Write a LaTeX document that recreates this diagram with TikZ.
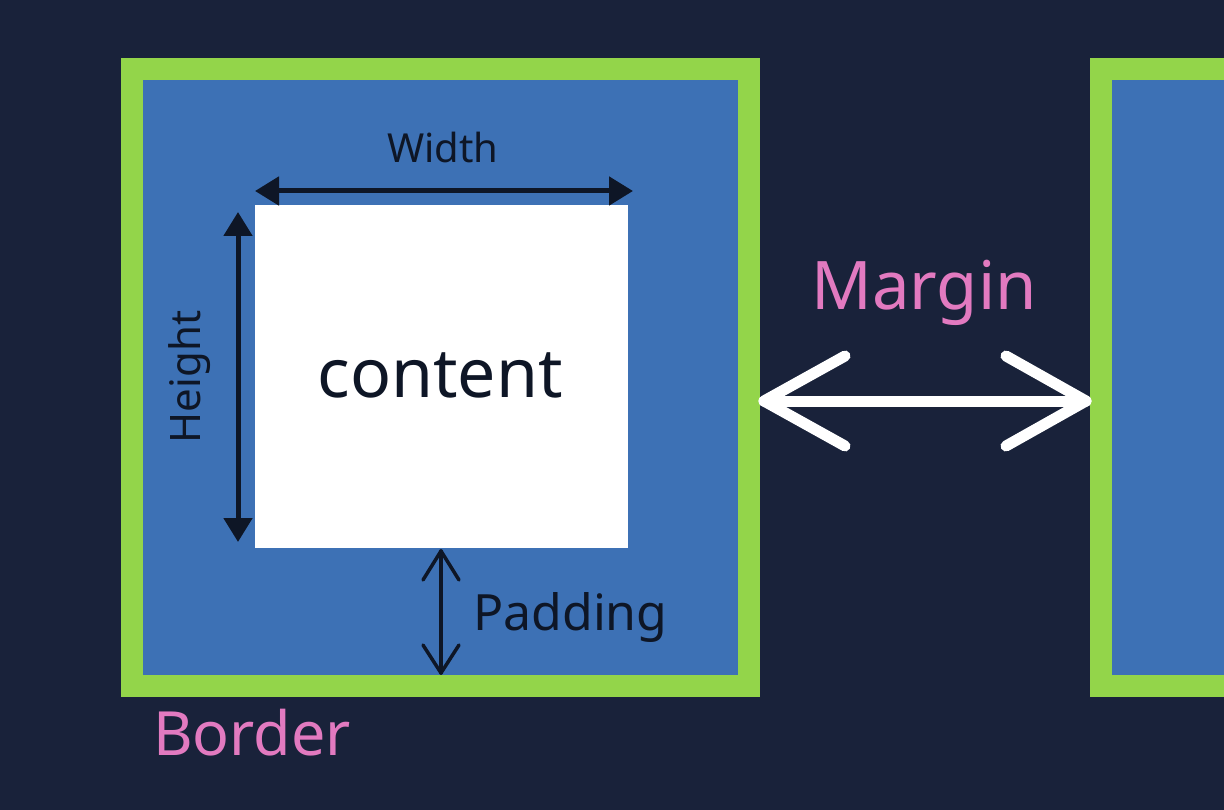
\documentclass[tikz,border=0pt]{standalone}
\usepackage{fontspec}
\setmainfont{Noto Sans}
\usetikzlibrary{arrows.meta}
\definecolor{bg}{HTML}{19223A}
\definecolor{brd}{HTML}{93D54A}
\definecolor{pad}{HTML}{3D71B5}
\definecolor{ink}{HTML}{0E1626}
\definecolor{pinkl}{HTML}{E27AC0}
\tikzset{
  box/.style={inner sep=0pt, outer sep=0pt, anchor=north west},
  dimarrow/.style={draw=ink, line width=5pt, {Triangle[length=24pt,width=28pt]}-{Triangle[length=24pt,width=28pt]}},
  chev/.style={draw=ink, line width=3.5pt, line cap=round, line join=round},
  marg/.style={draw=white, line width=11pt, line cap=round, line join=round},
  lbl/.style={text=ink, inner sep=0pt},
  plbl/.style={text=pinkl, inner sep=0pt},
}
\begin{document}
\begin{tikzpicture}[x=1pt,y=-1pt]
\fill[bg] (0,0) rectangle (1224,810);
\useasboundingbox (0,0) rectangle (1224,810);
% left box
\node[box, fill=brd, minimum width=639pt, minimum height=639pt] (outerL) at (121,58) {};
\node[box, fill=pad, minimum width=595pt, minimum height=595pt] (padL) at (143,80) {};
\node[box, fill=white, minimum width=373pt, minimum height=343pt] (content) at (255,205) {};
% right box
\node[box, fill=brd, minimum width=200pt, minimum height=639pt] (outerR) at (1090,58) {};
\node[box, fill=pad, minimum width=200pt, minimum height=595pt] (padR) at (1112,80) {};
\fill[bg] (1224,0) rectangle (1300,810);
% labels
\node[lbl, font=\fontsize{68}{72}\selectfont] (ctext) at (440,375) {content};
\node[lbl, font=\fontsize{40}{44}\selectfont] (wtext) at (443,148) {Width};
\node[lbl, font=\fontsize{42}{46}\selectfont, rotate=90] (htext) at (190,377) {Height};
\node[lbl, font=\fontsize{50}{54}\selectfont, anchor=west] (ptext) at (473,617) {Padding};
\node[plbl, font=\fontsize{67}{71}\selectfont] (mtext) at (924,293) {Margin};
\node[plbl, font=\fontsize{61}{65}\selectfont] (btext) at (252,733) {Border};
% width arrow
\coordinate (w1) at (255,191);
\coordinate (w2) at (633,191);
\draw[dimarrow] (w1) -- (w2);
% height arrow
\coordinate (h1) at (238,212);
\coordinate (h2) at (238,542);
\draw[dimarrow] (h1) -- (h2);
% padding arrow
\coordinate (p1) at (441,551);
\coordinate (p2) at (441,673);
\draw[chev] (p1) -- (p2);
\draw[chev] (423,580) -- (p1) -- (459,580);
\draw[chev] (423,645) -- (p2) -- (459,645);
% margin arrow
\coordinate (m1) at (764,401);
\coordinate (m2) at (1086,401);
\draw[marg] (m1) -- (m2);
\draw[marg] (845,356) -- (m1) -- (845,446);
\draw[marg] (1006,356) -- (m2) -- (1006,446);
\end{tikzpicture}
\end{document}
